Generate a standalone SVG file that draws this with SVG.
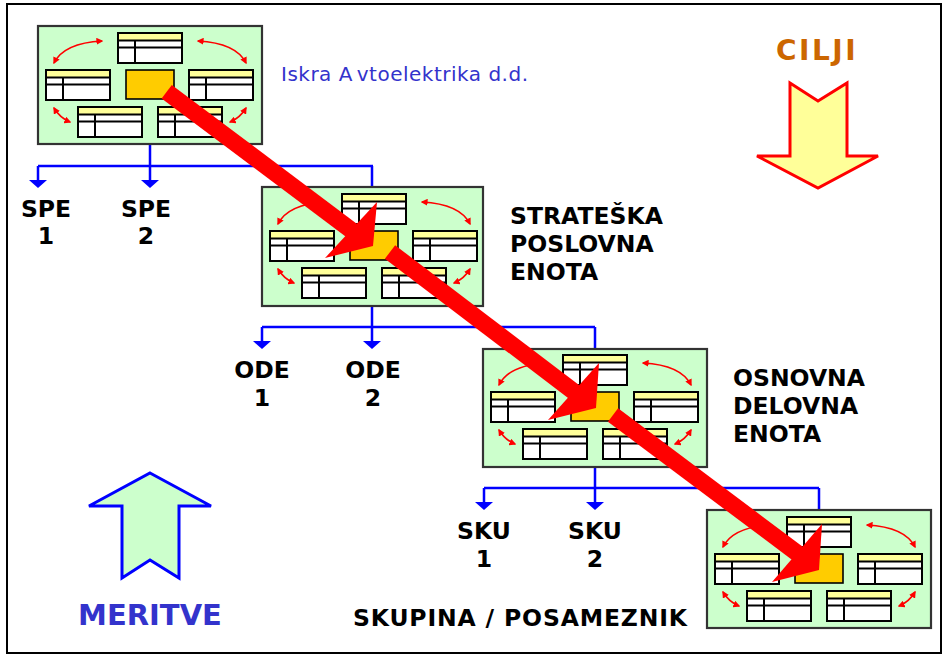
<svg xmlns="http://www.w3.org/2000/svg" xmlns:xlink="http://www.w3.org/1999/xlink" width="952" height="663" viewBox="0 0 952 663">
<style>
.box{fill:#CCFFCC;stroke:#333333;stroke-width:2.2}
.tb{fill:#FFFFFF}
.hd{fill:#FFFF99}
.tl{stroke:#000;stroke-width:2;fill:none}
.org{fill:#FFCC00;stroke:#000;stroke-width:1.6}
.cv{fill:none;stroke:#FF0000;stroke-width:1.6}
.conn{fill:none;stroke:#0000FF;stroke-width:2.5}
.ah{fill:#0000FF}
.red{fill:#FF0000}
.shaft{stroke:#FF0000;stroke-width:17;fill:none}
.lbl{font-family:"DejaVu Sans",Verdana,sans-serif;font-weight:bold;font-size:23.5px;fill:#000}
.mid{text-anchor:middle}
</style>
<defs>
<marker id="ra" viewBox="0 0 10 10" refX="8" refY="5" markerWidth="7" markerHeight="7" markerUnits="userSpaceOnUse" orient="auto-start-reverse">
<path d="M0,0 L10,5 L0,10 z" fill="#FF0000"/>
</marker>
<g id="tbl">
<rect class="tb" x="0" y="0" width="64" height="30"/>
<rect class="hd" x="0" y="0" width="64" height="7"/>
<path class="tl" d="M0,7.5 H64 M0,14.5 H64 M17,7.5 V30"/>
<rect class="tl" x="0" y="0" width="64" height="30"/>
</g>
<g id="inner">
<use xlink:href="#tbl" x="80" y="7"/>
<use xlink:href="#tbl" x="8" y="44"/>
<use xlink:href="#tbl" x="151" y="44"/>
<use xlink:href="#tbl" x="40" y="81"/>
<use xlink:href="#tbl" x="120" y="81"/>
<rect class="org" x="88" y="44" width="48" height="29"/>
<path class="cv" d="M16,37 Q26,17 64,15" marker-start="url(#ra)" marker-end="url(#ra)"/>
<path class="cv" d="M160,15 Q198,17 208,37" marker-start="url(#ra)" marker-end="url(#ra)"/>
<path class="cv" d="M16,82 Q22,92 32,96" marker-start="url(#ra)" marker-end="url(#ra)"/>
<path class="cv" d="M192,96 Q202,92 208,82" marker-start="url(#ra)" marker-end="url(#ra)"/>
</g>
</defs>

<rect x="7" y="4" width="934" height="649" fill="#FFFFFF" stroke="#000" stroke-width="2"/>

<g id="connectors">
<path class="conn" d="M150,144 V166 M38,166 H373 M38,166 V181 M150,166 V181 M372,166 V187"/>
<polygon class="ah" points="29,180 47,180 38,188"/>
<polygon class="ah" points="141,180 159,180 150,188"/>
<path class="conn" d="M372,306 V327 M262,327 H595 M262,327 V342 M372,327 V342 M595,327 V349"/>
<polygon class="ah" points="253,341 271,341 262,349"/>
<polygon class="ah" points="363,341 381,341 372,349"/>
<path class="conn" d="M595,467 V488 M484,488 H819 M484,488 V503 M595,488 V503 M819,488 V510"/>
<polygon class="ah" points="475,502 493,502 484,510"/>
<polygon class="ah" points="586,502 604,502 595,510"/>
</g>

<g id="node1">
<rect class="box" x="38" y="26" width="224" height="118"/>
<use xlink:href="#inner" transform="translate(38,26)"/>
</g>
<g id="node2">
<rect class="box" x="262" y="187" width="221" height="119"/>
<use xlink:href="#inner" transform="translate(262,187)"/>
</g>
<g id="node3">
<rect class="box" x="483" y="349" width="224" height="118"/>
<use xlink:href="#inner" transform="translate(483,348)"/>
</g>
<g id="node4">
<rect class="box" x="707" y="510" width="224" height="118"/>
<use xlink:href="#inner" transform="translate(707,510)"/>
</g>

<g id="flow">
<line class="shaft" x1="166.7" y1="91.7" x2="353" y2="231.5"/>
<polygon class="red" points="377,202 373,246 325,258"/>
<line class="shaft" x1="390" y1="252" x2="575.5" y2="393"/>
<polygon class="red" points="599,363 596,408 548,420"/>
<line class="shaft" x1="613" y1="415" x2="799" y2="554.5"/>
<polygon class="red" points="822,524 819,570 772,582"/>
</g>

<g id="cilji">
<text x="817" y="60" class="mid" style="font-family:'DejaVu Sans',Verdana,sans-serif;font-weight:bold;font-size:28px;fill:#CC6600;letter-spacing:2.5px">CILJI</text>
<polygon points="790,83 818,101 847,83 847,156 878,156 818,188 757,156 790,156" fill="#FFFF99" stroke="#FF0000" stroke-width="3"/>
</g>
<g id="meritve">
<polygon points="150,473 211,506 179,506 179,578 150,560 122,578 122,506 89,506" fill="#CCFFCC" stroke="#0000FF" stroke-width="3"/>
<text x="150" y="625" class="mid" style="font-family:'DejaVu Sans',Verdana,sans-serif;font-weight:bold;font-size:29px;fill:#3333CC">MERITVE</text>
</g>

<text x="281" y="81" style="font-family:'DejaVu Sans',Verdana,sans-serif;font-size:20px;fill:#3333CC;letter-spacing:0.5px">Iskra A<tspan dx="5">vtoelektrika d.d.</tspan></text>

<text class="lbl mid" x="46" y="217">SPE</text>
<text class="lbl mid" x="46" y="244">1</text>
<text class="lbl mid" x="146" y="217">SPE</text>
<text class="lbl mid" x="146" y="244">2</text>

<text class="lbl" x="510" y="224">STRATEŠKA</text>
<text class="lbl" x="510" y="252">POSLOVNA</text>
<text class="lbl" x="510" y="280">ENOTA</text>

<text class="lbl mid" x="262" y="378">ODE</text>
<text class="lbl mid" x="262" y="406">1</text>
<text class="lbl mid" x="373" y="378">ODE</text>
<text class="lbl mid" x="373" y="406">2</text>

<text class="lbl" x="733" y="386">OSNOVNA</text>
<text class="lbl" x="733" y="414">DELOVNA</text>
<text class="lbl" x="733" y="442">ENOTA</text>

<text class="lbl mid" x="484" y="539">SKU</text>
<text class="lbl mid" x="484" y="567">1</text>
<text class="lbl mid" x="595" y="539">SKU</text>
<text class="lbl mid" x="595" y="567">2</text>

<text class="lbl" x="353" y="626" textLength="334" lengthAdjust="spacing">SKUPINA / POSAMEZNIK</text>
</svg>
